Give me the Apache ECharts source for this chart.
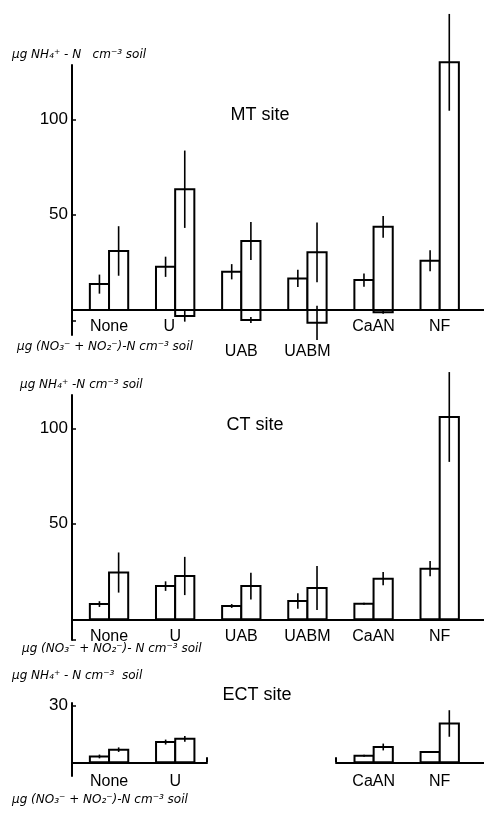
<!DOCTYPE html>
<html>
<head>
<meta charset="utf-8">
<script src="https://cdn.jsdelivr.net/npm/echarts@6/dist/echarts.min.js"></script>
<style>
  html, body { margin: 0; padding: 0; background: #fff; }
  #chart { width: 484px; height: 813px; }
</style>
</head>
<body>
<div id="chart"></div>
<script>
// ---- data ----
const categories = ['None', 'U', 'UAB', 'UABM', 'CaAN', 'NF'];

// MT site: left bar, right bar (NH4+ upward), NO3 part of right bar (downward)
const mtLeft     = [13.6, 22.7, 20.1, 16.6, 15.7, 25.9];
const mtLeftErr  = [5, 5.3, 4, 4.5, 3.5, 5.5];
const mtRight    = [31, 63.4, 36.2, 30.3, 43.7, 130];
const mtRightErr = [13, 20.3, 10, 15.7, 5.7, 25.4];
const mtNeg      = [null, -3.1, -5.2, -6.7, -1.1, null];
const mtNegErr   = [null, 3, 1.6, 9, 0.8, null];

// CT site
const ctLeft     = [8, 17.4, 7, 9.6, 8.2, 26.5];
const ctLeftErr  = [1.5, 2.5, 1, 4, 0.5, 4];
const ctRight    = [24.5, 22.7, 17.4, 16.4, 21.3, 105.9];
const ctRightErr = [10.5, 10, 7, 11.5, 3.5, 23.5];

// ECT site (UAB, UABM not sampled)
const ectLeft     = [3.1, 10.7, null, null, 3.5, 5.4];
const ectLeftErr  = [1, 1.3, null, null, 0.5, 0.5];
const ectRight    = [6.7, 12.4, null, null, 8.1, 20.5];
const ectRightErr = [1.2, 1.5, null, null, 1.8, 7];

// tick labels
const mtTicks  = [50, 100];
const ctTicks  = [50, 100];
const ectTicks = [30];
const mtLoweredLabels = ['UAB', 'UABM'];
const mtShiftedLabels = ['U'];

// ---- chart ----
const BAR_W = 0.29;          // bar width in category units
const FONT = "'Liberation Sans', Arial, sans-serif";
const ITAL = "'DejaVu Sans', sans-serif";

const grids = [
  { left: 72, right: 0, top: 65, height: 270, ymin: -13.1, ymax: 128.6 },
  { left: 72, right: 0, top: 395, height: 245, ymin: -10.8, ymax: 117.4 },
  { left: 72, width: 135, top: 703, height: 73, ymin: -7.2, ymax: 31.3 },
  { left: 336, right: 0, top: 703, height: 73, ymin: -7.2, ymax: 31.3 }
];
// labels sit at grid bottom; pull them up to just under the zero line
function labelMargin(idx, gap) {
  const g = grids[idx];
  const below = -g.ymin * g.height / (g.ymax - g.ymin);
  return gap - below;
}

function toData(vals, errs, keep) {
  const out = [];
  vals.forEach((v, i) => {
    if (v !== null && (!keep || keep(i))) out.push([i, v, errs[i] || 0]);
  });
  return out;
}

function makeRender(side) {
  return function (params, api) {
    const i = api.value(0), v = api.value(1), e = api.value(2);
    const x0 = side === 'left' ? i - BAR_W : i;
    const x1 = x0 + BAR_W;
    const xc = (x0 + x1) / 2;
    const a = api.coord([x0, v]);
    const b = api.coord([x1, 0]);
    const children = [{
      type: 'rect',
      shape: {
        x: Math.min(a[0], b[0]), y: Math.min(a[1], b[1]),
        width: Math.abs(b[0] - a[0]), height: Math.abs(b[1] - a[1])
      },
      style: { fill: '#fff', stroke: '#000', lineWidth: 2 }
    }];
    if (e) {
      const t = api.coord([xc, v + e]);
      const u = api.coord([xc, v - e]);
      children.push({
        type: 'line',
        shape: { x1: t[0], y1: t[1], x2: u[0], y2: u[1] },
        style: { stroke: '#000', lineWidth: 1.6 }
      });
    }
    return { type: 'group', children: children };
  };
}

function barSeries(name, idx, side, data) {
  return {
    name: name, type: 'custom', xAxisIndex: idx, yAxisIndex: idx,
    renderItem: makeRender(side), data: data, clip: false, silent: true
  };
}

function xAxis(idx, min, max, labelVals, tickVals, gap, lowered, shifted) {
  const base = { color: '#000', fontSize: 16, fontFamily: FONT };
  return {
    type: 'value', gridIndex: idx, min: min, max: max,
    axisLine: { show: true, onZero: true, lineStyle: { color: '#000', width: 2 } },
    axisTick: tickVals ? { show: true, inside: true, length: 5, customValues: tickVals,
                           lineStyle: { color: '#000', width: 2 } } : { show: false },
    splitLine: { show: false },
    axisLabel: Object.assign({
      show: true, customValues: labelVals, margin: labelMargin(idx, gap),
      formatter: function (v) {
        const n = categories[Math.round(v)];
        if (lowered && lowered.indexOf(n) >= 0) return '{low|' + n + '}';
        if (shifted && shifted.indexOf(n) >= 0) return '{lft|' + n + '}';
        return n;
      },
      rich: {
        low: Object.assign({ padding: [25, 0, 0, 0] }, base),
        lft: Object.assign({ padding: [0, 12, 0, 0] }, base)
      }
    }, base)
  };
}

function yAxis(idx, labelVals, tickVals, show) {
  return {
    type: 'value', gridIndex: idx, min: grids[idx].ymin, max: grids[idx].ymax,
    axisLine: { show: show, onZero: false, lineStyle: { color: '#000', width: 2 } },
    axisTick: { show: show, inside: true, length: 4, customValues: tickVals,
                lineStyle: { color: '#000', width: 1.5 } },
    splitLine: { show: false },
    axisLabel: { show: show, customValues: labelVals, margin: 4, color: '#000',
                 fontSize: 17, fontFamily: FONT }
  };
}

function italicText(x, y, text) {
  return { type: 'text', x: x, y: y,
    style: { text: text, fill: '#000', font: 'italic 12px ' + ITAL,
             textAlign: 'left', textVerticalAlign: 'middle' } };
}
function siteText(x, y, text) {
  return { type: 'text', x: x, y: y,
    style: { text: text, fill: '#000', font: '18px ' + FONT,
             textAlign: 'center', textVerticalAlign: 'middle' } };
}

const chart = echarts.init(document.getElementById('chart'), null, { renderer: 'canvas' });
chart.setOption({
  backgroundColor: '#fff',
  animation: false,
  grid: grids.map(g => {
    const o = { left: g.left, top: g.top, height: g.height };
    if (g.width !== undefined) o.width = g.width; else o.right = g.right;
    return o;
  }),
  xAxis: [
    xAxis(0, -0.56, 5.67, [0, 1, 2, 3, 4, 5], null, 9, mtLoweredLabels, mtShiftedLabels),
    xAxis(1, -0.56, 5.67, [0, 1, 2, 3, 4, 5], null, 9),
    xAxis(2, -0.56, 1.48, [0, 1], [1.48], 11),
    xAxis(3, 3.43, 5.67, [4, 5], [3.43], 11)
  ],
  yAxis: [
    yAxis(0, mtTicks, [-5.5].concat(mtTicks), true),
    yAxis(1, ctTicks, [-10.8].concat(ctTicks), true),
    yAxis(2, ectTicks, ectTicks, true),
    yAxis(3, [], [], false)
  ],
  graphic: [
    italicText(12, 55, 'µg NH₄⁺ - N   cm⁻³ soil'),
    italicText(17, 347, 'µg (NO₃⁻ + NO₂⁻)-N cm⁻³ soil'),
    italicText(20, 385, 'µg NH₄⁺ -N cm⁻³ soil'),
    italicText(22, 649, 'µg (NO₃⁻ + NO₂⁻)- N cm⁻³ soil'),
    italicText(12, 676, 'µg NH₄⁺ - N cm⁻³  soil'),
    italicText(12, 800, 'µg (NO₃⁻ + NO₂⁻)-N cm⁻³ soil'),
    siteText(260, 115, 'MT site'),
    siteText(255, 425, 'CT site'),
    siteText(257, 695, 'ECT site')
  ],
  series: [
    barSeries('MT left', 0, 'left', toData(mtLeft, mtLeftErr)),
    barSeries('MT right', 0, 'right', toData(mtRight, mtRightErr)),
    barSeries('MT right NO3', 0, 'right', toData(mtNeg, mtNegErr)),
    barSeries('CT left', 1, 'left', toData(ctLeft, ctLeftErr)),
    barSeries('CT right', 1, 'right', toData(ctRight, ctRightErr)),
    barSeries('ECT left a', 2, 'left', toData(ectLeft, ectLeftErr, i => i < 2)),
    barSeries('ECT right a', 2, 'right', toData(ectRight, ectRightErr, i => i < 2)),
    barSeries('ECT left b', 3, 'left', toData(ectLeft, ectLeftErr, i => i > 3)),
    barSeries('ECT right b', 3, 'right', toData(ectRight, ectRightErr, i => i > 3))
  ]
});
</script>
</body>
</html>
